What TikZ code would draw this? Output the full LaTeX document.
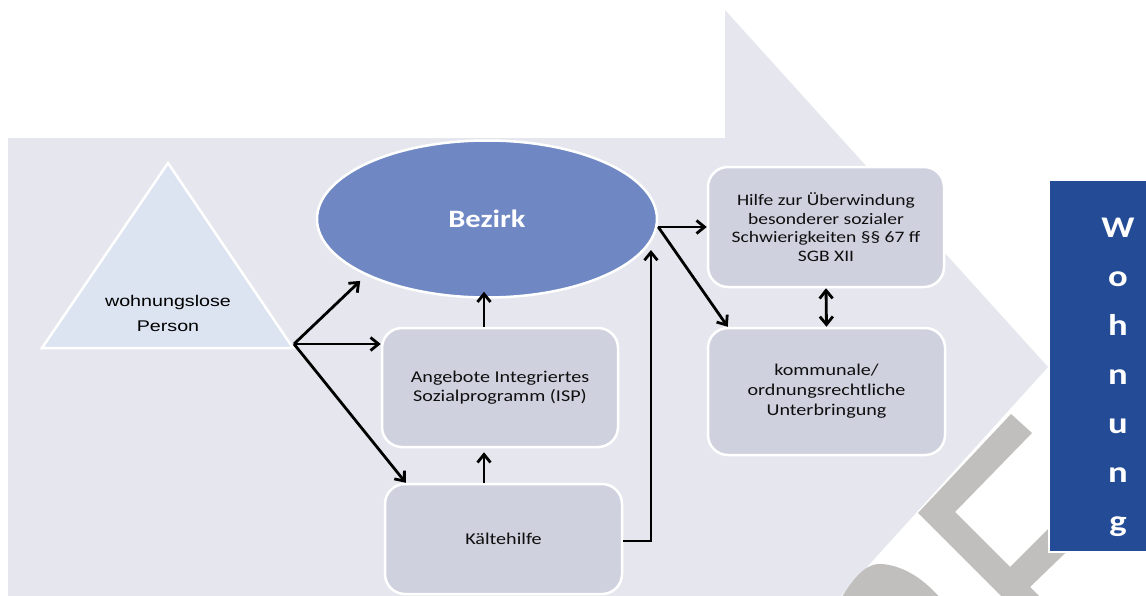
\documentclass[tikz,border=0pt]{standalone}
\usepackage{fontspec}
\setmainfont{Carlito}[FakeStretch=1.22]
\newfontfamily\arialfont{Liberation Sans}[FakeStretch=1.27]
\usetikzlibrary{shapes.geometric,arrows.meta}
\definecolor{bggray}{RGB}{230,231,238}
\definecolor{tricol}{RGB}{220,227,241}
\definecolor{bezcol}{RGB}{111,136,196}
\definecolor{boxcol}{RGB}{207,209,223}
\definecolor{wohncol}{RGB}{35,75,150}
\definecolor{markcol}{RGB}{192,191,189}
\definecolor{txtcol}{RGB}{15,15,15}

\begin{document}
\begin{tikzpicture}[x=1pt,y=-1pt,
  box/.style={rectangle,rounded corners=20pt,draw=white,line width=2.5pt,fill=boxcol,
    minimum width=236pt,align=center,text=txtcol,font=\fontsize{16.5}{19.5}\selectfont},
  arr/.style={line width=2.8pt,-{Straight Barb[length=8pt,width=13pt]}},
  darr/.style={line width=2.8pt,{Straight Barb[length=8pt,width=13pt]}-{Straight Barb[length=8pt,width=13pt]}}]
\useasboundingbox (0,0) rectangle (1146,595);
\clip (0,0) rectangle (1146,595);
\fill[white] (0,0) rectangle (1146,595);
\fill[bggray] (8,700) -- (8,138) -- (725,138) -- (725,10) -- (1048,367) -- (725,724) -- cycle;
\fill[markcol] (918,513) -- (1011,414) -- (1032,433) -- (955,512) -- (1010,567) -- (1065,512)
  -- (1086,533) -- (1030,587) -- (1063,620) -- (1025,620) -- cycle;
\fill[markcol] (840,600) .. controls (858,570) and (870,563) .. (882,564)
  .. controls (905,566) and (925,580) .. (942,600) -- cycle;
\draw[white,line width=2.5pt,fill=tricol] (168,163) -- (42,348) -- (293,348) -- cycle;
\node[font=\arialfont\fontsize{15.5}{25}\selectfont,align=center] (person) at (168,313) {wohnungslose\\Person};
\coordinate (tri) at (294,344);
\node[ellipse,draw=white,line width=2.5pt,fill=bezcol,minimum width=340pt,minimum height=157pt,
  inner sep=0pt,text=white,font=\fontsize{25}{30}\selectfont\bfseries] (bezirk) at (487,219) {Bezirk};
\node[box,minimum height=119pt] (isp) at (500,387.5) {Angebote Integriertes\\Sozialprogramm (ISP)};
\node[box,minimum width=237pt,minimum height=110pt] (kaelte) at (503.5,539) {Kältehilfe};
\node[box,minimum height=120pt,font=\fontsize{16}{18.5}\selectfont] (hilfe) at (826,227)
  {Hilfe zur Überwindung\\besonderer sozialer\\Schwierigkeiten §§ 67 ff\\SGB XII};
\node[box,minimum width=237pt,minimum height=127pt,font=\fontsize{16.5}{20}\selectfont] (kommunal) at (826.5,391.5)
  {kommunale/\\ordnungsrechtliche\\Unterbringung};
\node[rectangle,draw=white,line width=2.5pt,fill=wohncol,minimum width=138pt,minimum height=372pt,
  align=center,text=white,font=\fontsize{30}{49}\selectfont\bfseries] (wohnung) at (1118,366)
  {\rule{0pt}{43pt}W\\o\\h\\n\\u\\n\\g};
\coordinate (ispup) at ([xshift=-16pt]isp.north);
\coordinate (kaelteup) at ([xshift=-19.5pt]kaelte.north);
\coordinate (bz) at (bezirk.east |- hilfe.west);
\draw[arr,shorten >=8pt] (tri) -- (bezirk.205);
\draw[arr] (tri) -- (tri -| isp.west);
\draw[arr] (tri) -- ([xshift=22pt]kaelte.north west);
\draw[arr,shorten >=-7pt] (ispup) -- (ispup |- bezirk.south);
\draw[arr,shorten >=4pt] (kaelteup) -- (kaelteup |- isp.south);
\draw[arr,shorten >=8pt] ([yshift=-2pt]kaelte.east) -| (bezirk.-8);
\draw[arr] (bz) -- (hilfe.west);
\draw[arr] (bz) -- ([xshift=21pt]kommunal.north west);
\draw[darr] (hilfe.south) -- (kommunal.north);
\end{tikzpicture}
\end{document}
